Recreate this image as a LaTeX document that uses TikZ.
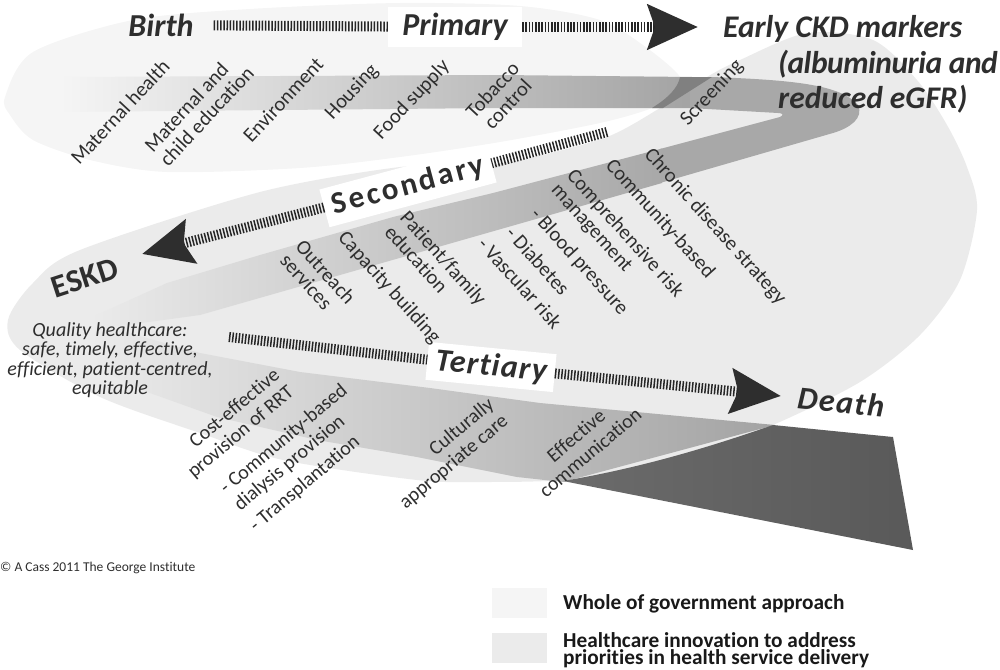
\documentclass[tikz,border=0pt]{standalone}
\usepackage{fontspec}
\setmainfont{Carlito}[Ligatures=NoCommon]
\usetikzlibrary{arrows.meta}

\definecolor{blobgrey}{HTML}{F5F5F5}
\definecolor{lightgrey}{HTML}{EBEBEB}
\definecolor{inkgrey}{HTML}{2E2E2E}

\tikzset{
    stripe/.style={line width=10pt, dash pattern=on 1.5pt off 1.7pt, draw=black!85},
    headtip/.style={-{Stealth[length=50pt,width=44pt,inset=7pt,black!82]}},
    stage/.style={fill=white, text=inkgrey, font=\fontsize{32}{32}\selectfont\bfseries\itshape, inner sep=0pt},
    endpoint/.style={text=inkgrey, font=\fontsize{32}{34}\selectfont\bfseries\itshape, inner sep=0pt},
    lab/.style={text=inkgrey, font=\fontsize{20.5}{21}\selectfont, align=center, inner sep=0pt},
    lowlab/.style={text=inkgrey, font=\fontsize{20}{22}\selectfont, align=center, inner sep=0pt, rotate=40},
    legendbox/.style={minimum width=55pt, minimum height=30pt, inner sep=0pt},
    legendtext/.style={text=black!90, font=\fontsize{21.3}{17.5}\selectfont\bfseries, align=left, inner sep=0pt, anchor=west}
}

\begin{document}
\begin{tikzpicture}[x=1pt, y=-1pt]
    \useasboundingbox (0,0) rectangle (1000,669);

    % the two pale ribbons
    \fill[blobgrey] plot[smooth cycle] coordinates {(5,97) (33,52) (133,20) (250,9) (400,3) (520,6) (600,20) (647,48) (680,77) (672,93) (652,108) (600,123) (500,142) (400,157) (300,168) (167,172) (90,160) (33,140) (10,115)};
    \fill[lightgrey] plot[smooth cycle] coordinates {(80,250) (260,192) (400,167) (445,170) (495,164) (530,158) (607,137) (660,108) (707,77) (740,60) (807,33) (873,40) (917,80) (947,125) (967,167) (977,210) (960,280) (920,335) (860,382) (773,425) (707,448) (640,468) (563,480) (483,482) (417,480) (283,460) (200,433) (100,397) (20,350) (8,320) (33,283)};

    % darker band, in parts
    \shade[left color=blobgrey, middle color=black!25, right color=black!36] (60,77) -- (500,75) -- (692,77) -- (692,108) -- (500,108) -- (60,112) -- cycle;
    \fill[black!34] (690,77) -- (712,77) .. controls (790,80) and (840,84) .. (858,105) .. controls (864,118) and (850,128) .. (833,133) -- (660,183) -- (660,149) -- (780,117) .. controls (784,115) and (783,113) .. (778,113) -- (690,108) -- cycle;
    \shade[left color=lightgrey, middle color=black!24, right color=black!34] (90,318) -- (167,283) -- (260,255) -- (393,217) -- (493,193) -- (662,148.5) -- (662,183) -- (333,277) -- (200,315) -- (90,330) -- cycle;
    \shade[left color=lightgrey, middle color=black!24, right color=black!36] (90,322) -- (200,353) -- (300,372) -- (430,388) -- (540,403) -- (775,425) -- (563,482) -- (517,477) -- (417,457) -- (317,440) -- (217,417) -- (150,393) -- (100,370) -- cycle;
    \fill[black!50] (680,77) -- (712,77) -- (663,108) -- (652,108) .. controls (668,98) and (678,88) .. (680,77) -- cycle;
    \shade[left color=black!58, right color=black!65] (563,481) .. controls (640,468) and (707,448) .. (773,425) -- (893,437) -- (913,550) -- cycle;

    % stages and end points
    \node[endpoint] (birth) at (161,25) {Birth};
    \node[stage, minimum width=134pt, minimum height=40pt] (primary) at (455,27) {Primary};
    \node[endpoint, align=left, anchor=north west, font=\fontsize{31.5}{35.5}\selectfont\bfseries\itshape] (early) at (723,15.5) {Early CKD markers\\\hspace*{55pt}{\addfontfeature{LetterSpace=-1.5}(albuminuria and}\\\hspace*{55pt}reduced eGFR)};
    \node[stage, rotate=15, minimum width=173pt, minimum height=39pt, font=\fontsize{31}{31}\selectfont\bfseries\addfontfeature{LetterSpace=9}] (secondary) at (408,186) {Secondary};
    \node[endpoint, rotate=18, font=\fontsize{32}{32}\selectfont\bfseries] (eskd) at (85,278) {ESKD};
    \node[stage, rotate=-5.5, minimum width=128pt, minimum height=38pt, font=\fontsize{32}{32}\selectfont\bfseries\itshape\addfontfeature{LetterSpace=4}] (tertiary) at (491,367) {Tertiary};
    \node[endpoint, rotate=-6, font=\fontsize{32}{32}\selectfont\bfseries\itshape\addfontfeature{LetterSpace=5}] (death) at (841,402) {Death};

    % arrows
    \coordinate (earlytip) at (698,27);
    \coordinate (secstart) at (607,132);
    \coordinate (eskdtip) at (142,254);
    \coordinate (terstart) at (229,337);
    \coordinate (deathtip) at (781,396);
    \draw[stripe, shorten <=20pt] (birth) -- (primary);
    \draw[stripe, headtip] (primary) -- (earlytip);
    \draw[stripe] (secstart) -- (secondary);
    \draw[stripe, headtip] (secondary) -- (eskdtip);
    \draw[stripe] (terstart) -- (tertiary);
    \draw[stripe, headtip] (tertiary) -- (deathtip);

    % primary labels
    \node[lab, rotate=47] (mathealth) at (120,112) {Maternal health};
    \node[lab, rotate=47, align=left] (matedu) at (199,109) {Maternal and\\child education};
    \node[lab, rotate=47] (environment) at (283,100) {Environment};
    \node[lab, rotate=47] (housing) at (352,92) {Housing};
    \node[lab, rotate=47] (food) at (412,100) {Food supply};
    \node[lab, rotate=47] (tobacco) at (500,97) {Tobacco\\control};
    \node[lab, rotate=47] (screening) at (712,93) {Screening};

    % secondary labels
    \node[lab, rotate=-48] (chronic) at (715,227) {Chronic disease strategy};
    \node[lab, rotate=-48] (community) at (660,219) {Community-based};
    \node[lab, rotate=-48, align=left] (risk) at (617,241) {Comprehensive risk\\management};
    \node[lab, rotate=-48] (blood) at (579,262) {- Blood pressure};
    \node[lab, rotate=-48] (diabetes) at (538,261) {- Diabetes};
    \node[lab, rotate=-48] (vascular) at (520,283) {- Vascular risk};
    \node[lab, rotate=-48, align=left] (patient) at (436,265) {Patient/family\\education};
    \node[lab, rotate=-48] (capacity) at (389,288) {Capacity building};
    \node[lab, rotate=-48, align=left] (outreach) at (318,279) {Outreach\\services};

    % tertiary labels
    \node[lab, font=\fontsize{20}{19.5}\selectfont\itshape] (quality) at (110,360) {Quality healthcare:\\safe, timely, effective,\\efficient, patient-centred,\\equitable};
    \node[lowlab, align=right] (cost) at (234,424) {Cost-effective\\provision of RRT};
    \node[lowlab, align=left] (dialysis) at (291,448) {- Community-based\\dialysis provision};
    \node[lowlab] (transplant) at (305,484) {- Transplantation};
    \node[lowlab, align=right] (cultural) at (447,454) {Culturally\\appropriate care};
    \node[lowlab] (communication) at (583,444) {Effective\\communication};

    % footer and legend
    \node[inner sep=0pt, anchor=west, text=inkgrey, font=\fontsize{13.5}{13.5}\selectfont] (credit) at (0,568) {© A Cass 2011 The George Institute};
    \node[legendbox, fill=blobgrey] (wholebox) at (519.5,603) {};
    \node[legendbox, fill=lightgrey] (carebox) at (519.5,648) {};
    \node[legendtext] (whole) at (563,604) {Whole of government approach};
    \node[legendtext] (care) at (563,650) {Healthcare innovation to address\\priorities in health service delivery};
\end{tikzpicture}
\end{document}
